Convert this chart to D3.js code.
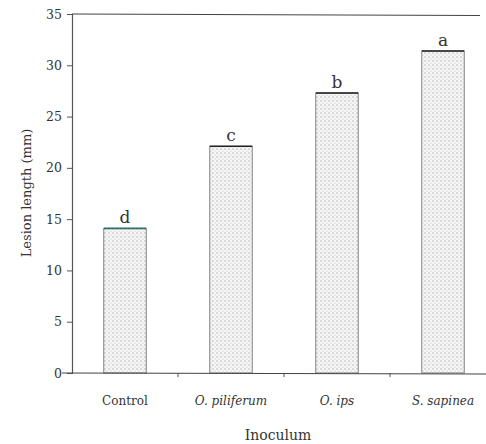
<!DOCTYPE html>
<html>
<head>
<meta charset="utf-8">
<script src="https://cdn.jsdelivr.net/npm/d3@7"></script>
<style>
  body { margin: 0; background: #fff; }
  text { font-family: "DejaVu Serif", serif; fill: #333; }
</style>
</head>
<body>
<div id="container"></div>
<script>
const categories = ["Control", "O. piliferum", "O. ips", "S. sapinea"]
const italic = [false, true, true, true]
const values = [14.1, 22.1, 27.3, 31.4]
const letters = ["d", "c", "b", "a"]
const yTicks = [0, 5, 10, 15, 20, 25, 30, 35]

const width = 486
const height = 444
const margin = { top: 14, left: 72, bottom: 71 }

const svg = d3.select("#container").append("svg")
    .attr("width", width)
    .attr("height", height)

// dotted fill like the printed screen tone
const defs = svg.append("defs")
const pat = defs.append("pattern")
    .attr("id", "dots")
    .attr("width", 4)
    .attr("height", 4)
    .attr("patternUnits", "userSpaceOnUse")
pat.append("rect").attr("width", 4).attr("height", 4).attr("fill", "#f6f6f6")
pat.append("circle").attr("cx", 1).attr("cy", 1).attr("r", 0.7).attr("fill", "#a8a8a8")
pat.append("circle").attr("cx", 3).attr("cy", 3).attr("r", 0.6).attr("fill", "#c4c4c4")

const y = d3.scaleLinear()
    .domain([0, 35])
    .range([height - margin.bottom, margin.top])

const x = d3.scaleBand()
    .domain(categories)
    .range([margin.left, 496])
    .paddingInner(0.6)
    .paddingOuter(0.3)

// y axis
const yAxis = svg.append("g")
    .attr("transform", `translate(${margin.left},0)`)
    .call(d3.axisLeft(y).tickValues(yTicks).tickSize(5).tickPadding(5))
yAxis.select(".domain").attr("stroke", "#555").attr("stroke-width", 1.2)
yAxis.selectAll(".tick line").attr("stroke", "#555")
yAxis.selectAll(".tick text")
    .attr("font-size", 12.5)
    .attr("font-family", "DejaVu Serif, serif")
    .attr("fill", "#444")

// top line
svg.append("line")
    .attr("x1", margin.left).attr("x2", 480)
    .attr("y1", y(35)).attr("y2", y(35) + 1.5)
    .attr("stroke", "#444").attr("stroke-width", 1.2)

// bars
svg.selectAll("rect.bar")
    .data(values)
    .enter().append("rect")
    .attr("class", "bar")
    .attr("x", (d, i) => x(categories[i]))
    .attr("y", d => y(d))
    .attr("width", x.bandwidth())
    .attr("height", d => y(0) - y(d))
    .attr("fill", "url(#dots)")
    .attr("stroke", "#666")
    .attr("stroke-width", 0.8)

// darker bar tops
svg.selectAll("line.cap")
    .data(values)
    .enter().append("line")
    .attr("class", "cap")
    .attr("x1", (d, i) => x(categories[i]))
    .attr("x2", (d, i) => x(categories[i]) + x.bandwidth())
    .attr("y1", d => y(d))
    .attr("y2", d => y(d))
    .attr("stroke", (d, i) => i === 0 ? "#2a6f6a" : "#222")
    .attr("stroke-width", 1.6)

svg.selectAll("text.letter")
    .data(letters)
    .enter().append("text")
    .attr("class", "letter")
    .attr("x", (d, i) => x(categories[i]) + x.bandwidth() / 2)
    .attr("y", (d, i) => y(values[i]) - 5)
    .attr("text-anchor", "middle")
    .attr("font-size", 17)
    .text(d => d)

// x axis
const xAxis = svg.append("g")
    .attr("transform", `translate(0,${y(0)})`)
svg.append("line")
    .attr("x1", 62).attr("x2", width)
    .attr("y1", y(0)).attr("y2", y(0) + 1)
    .attr("stroke", "#444").attr("stroke-width", 1.2)
xAxis.selectAll("line.xt")
    .data(categories.slice(1))
    .enter().append("line")
    .attr("class", "xt")
    .attr("x1", d => x(d) - x.step() * x.paddingInner() / 2)
    .attr("x2", d => x(d) - x.step() * x.paddingInner() / 2)
    .attr("y1", 0).attr("y2", 4)
    .attr("stroke", "#555")

svg.selectAll("text.cat")
    .data(categories)
    .enter().append("text")
    .attr("class", "cat")
    .attr("x", d => x(d) + x.bandwidth() / 2)
    .attr("y", 405)
    .attr("text-anchor", "middle")
    .attr("font-size", 12)
    .attr("font-style", (d, i) => italic[i] ? "italic" : "normal")
    .text(d => d)

svg.append("text")
    .attr("x", 278)
    .attr("y", 440)
    .attr("text-anchor", "middle")
    .attr("font-size", 14)
    .text("Inoculum")

svg.append("text")
    .attr("transform", `translate(31,193) rotate(-90)`)
    .attr("text-anchor", "middle")
    .attr("font-size", 13)
    .text("Lesion length (mm)")
</script>
</body>
</html>
